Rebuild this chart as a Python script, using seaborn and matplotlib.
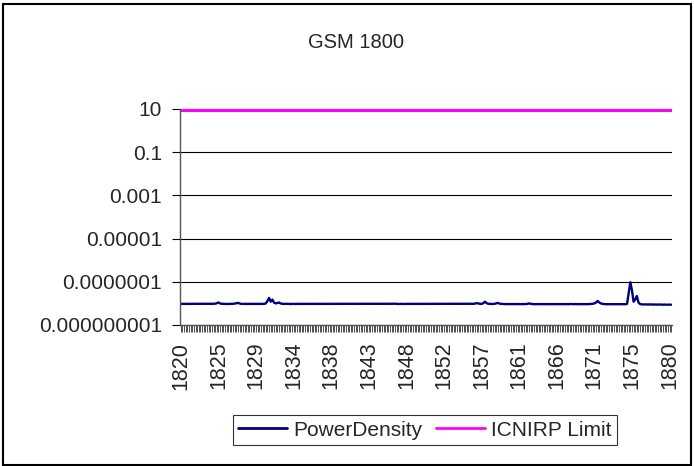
import numpy as np
import pandas as pd
import matplotlib
matplotlib.use("Agg")
import matplotlib.pyplot as plt
import matplotlib.ticker as ticker
from matplotlib.patches import Rectangle
import seaborn as sns

# frequency categories 1820.0 .. 1880.0 MHz in 0.2 MHz steps
freqs = np.round(np.arange(1820.0, 1880.0001, 0.2), 1)

pd_e9 = [
    9.5, 9.5, 9.4, 9.5, 9.5, 9.4, 9.5, 9.5, 9.5, 9.4, 9.5, 9.5, 9.4, 9.5, 9.5, 9.5, 9.4, 9.5, 9.5, 9.6,
    9.6, 9.7, 10.2, 11.0, 10.0, 9.6, 9.5, 9.5, 9.4, 9.5, 9.5, 9.5, 9.6, 9.8, 10.2, 10.6, 9.9, 9.5, 9.5, 9.4,
    9.5, 9.5, 9.5, 9.4, 9.5, 9.5, 9.4, 9.5, 9.5, 9.5, 9.4, 9.5, 10.0, 13.0, 18.0, 12.0, 15.0, 11.0, 10.0, 10.4,
    11.0, 10.0, 9.6, 9.5, 9.5, 9.6, 9.5, 9.4, 9.5, 9.5, 9.4, 9.5, 9.5, 9.5, 9.6, 9.5, 9.5, 9.4, 9.5, 9.5,
    9.5, 9.4, 9.5, 9.5, 9.4, 9.5, 9.5, 9.5, 9.4, 9.5, 9.5, 9.4, 9.5, 9.5, 9.5, 9.4, 9.5, 9.5, 9.4, 9.5,
    9.5, 9.4, 9.5, 9.5, 9.5, 9.4, 9.5, 9.5, 9.4, 9.5, 9.5, 9.5, 9.4, 9.5, 9.5, 9.4, 9.5, 9.5, 9.5, 9.6,
    9.5, 9.4, 9.5, 9.5, 9.4, 9.5, 9.5, 9.5, 9.4, 9.5, 9.6, 9.7, 9.5, 9.4, 9.5, 9.5, 9.4, 9.5, 9.5, 9.5,
    9.4, 9.5, 9.5, 9.4, 9.5, 9.5, 9.5, 9.4, 9.5, 9.5, 9.4, 9.5, 9.5, 9.5, 9.4, 9.5, 9.5, 9.4, 9.5, 9.5,
    9.6, 9.5, 9.4, 9.5, 9.5, 9.4, 9.5, 9.5, 9.5, 9.4, 9.5, 9.5, 9.4, 9.5, 9.5, 9.5, 9.4, 9.5, 9.5, 9.6,
    9.8, 10.3, 9.9, 9.6, 9.5, 10.2, 12.0, 10.4, 9.6, 9.5, 9.5, 9.4, 9.6, 10.0, 10.5, 9.8, 9.5, 9.4, 9.4, 9.3,
    9.3, 9.2, 9.3, 9.2, 9.2, 9.3, 9.2, 9.2, 9.3, 9.2, 9.2, 9.3, 9.5, 10.0, 9.6, 9.3, 9.2, 9.2, 9.3, 9.2,
    9.2, 9.3, 9.2, 9.2, 9.3, 9.2, 9.2, 9.3, 9.2, 9.2, 9.3, 9.2, 9.2, 9.3, 9.2, 9.2, 9.3, 9.2, 9.3, 9.4,
    9.2, 9.3, 9.2, 9.2, 9.3, 9.2, 9.2, 9.3, 9.2, 9.2, 9.3, 9.4, 9.6, 10.0, 11.0, 13.0, 11.0, 10.0, 9.5, 9.3,
    9.2, 9.2, 9.3, 9.2, 9.2, 9.2, 9.1, 9.2, 9.2, 9.1, 9.2, 9.1, 9.2, 9.5, 30.0, 95.0, 40.0, 12.0, 15.0, 22.0,
    11.0, 9.3, 9.0, 8.9, 9.0, 8.9, 8.9, 9.0, 8.9, 8.8, 8.9, 8.8, 8.8, 8.9, 8.8, 8.7, 8.8, 8.7, 8.7, 8.8,
    8.7,
]
power_density = [v * 1e-9 for v in pd_e9]
icnirp_limit = [9.0] * len(freqs)

x_labels = [str(int(round(f))) for f in freqs[::23]]
y_ticks = [1e1, 1e-1, 1e-3, 1e-5, 1e-7, 1e-9]
y_labels = ["10", "0.1", "0.001", "0.00001", "0.0000001", "0.000000001"]

df = pd.DataFrame({
    "freq": np.concatenate([freqs, freqs]),
    "value": power_density + icnirp_limit,
    "series": ["PowerDensity"] * len(freqs) + ["ICNIRP Limit"] * len(freqs),
})

sns.set_style("white")
plt.rcParams["font.family"] = ["Liberation Sans", "DejaVu Sans"]

fig = plt.figure(figsize=(6.94, 4.66), dpi=100)
ax = fig.add_axes([180 / 694, 1 - 325 / 466, (672 - 180) / 694, (325 - 109) / 466])

sns.lineplot(data=df, x="freq", y="value", hue="series",
             palette={"PowerDensity": "#000080", "ICNIRP Limit": "#FF00FF"},
             ax=ax, legend=False)
ax.lines[0].set_linewidth(1.7)
ax.lines[1].set_linewidth(2.2)

ax.set_yscale("log")
ax.set_ylim(1e-9, 10)
ax.set_xlim(1819.9, 1880.1)
ax.yaxis.set_major_locator(ticker.FixedLocator(y_ticks))
ax.yaxis.set_major_formatter(ticker.FixedFormatter(y_labels))
ax.yaxis.set_minor_locator(ticker.NullLocator())
ax.xaxis.set_major_locator(ticker.FixedLocator(freqs[::23]))
ax.xaxis.set_major_formatter(ticker.FixedFormatter(x_labels))
ax.xaxis.set_minor_locator(ticker.FixedLocator(freqs))

ax.grid(axis="y", color="black", linewidth=0.8)
ax.set_axisbelow(True)
for s in ["top", "right"]:
    ax.spines[s].set_visible(False)
for s in ["left", "bottom"]:
    ax.spines[s].set_color("#555555")
    ax.spines[s].set_linewidth(1.0)

ax.tick_params(axis="y", which="major", direction="out", length=6, width=0.8,
               color="black", left=True, labelsize=15, pad=7)
ax.tick_params(axis="x", which="both", direction="out", length=5, width=0.6,
               color="#333333", bottom=True, labelsize=15.5, labelrotation=90, pad=7)
ax.set_xlabel("")
ax.set_ylabel("")

fig.text(0.513, 0.897, "GSM 1800", ha="center", va="baseline", fontsize=14.5)

handles = [plt.Line2D([], [], color="#000080", lw=2),
           plt.Line2D([], [], color="#FF00FF", lw=2)]
leg = fig.legend(handles, ["PowerDensity", "ICNIRP Limit"], loc="center",
                 bbox_to_anchor=(425 / 694, 1 - 430 / 466), ncol=2, fontsize=15,
                 frameon=True, fancybox=False, shadow=False, handlelength=2.35,
                 handletextpad=0.3, columnspacing=0.65, borderpad=0.25)
leg.get_frame().set_edgecolor("black")
leg.get_frame().set_linewidth(0.8)

fig.patches.append(Rectangle((3 / 694, 1 / 466), 688 / 694, 461 / 466,
                             transform=fig.transFigure, fill=False,
                             edgecolor="black", linewidth=1.5))

fig.savefig("out.png", dpi=100)
